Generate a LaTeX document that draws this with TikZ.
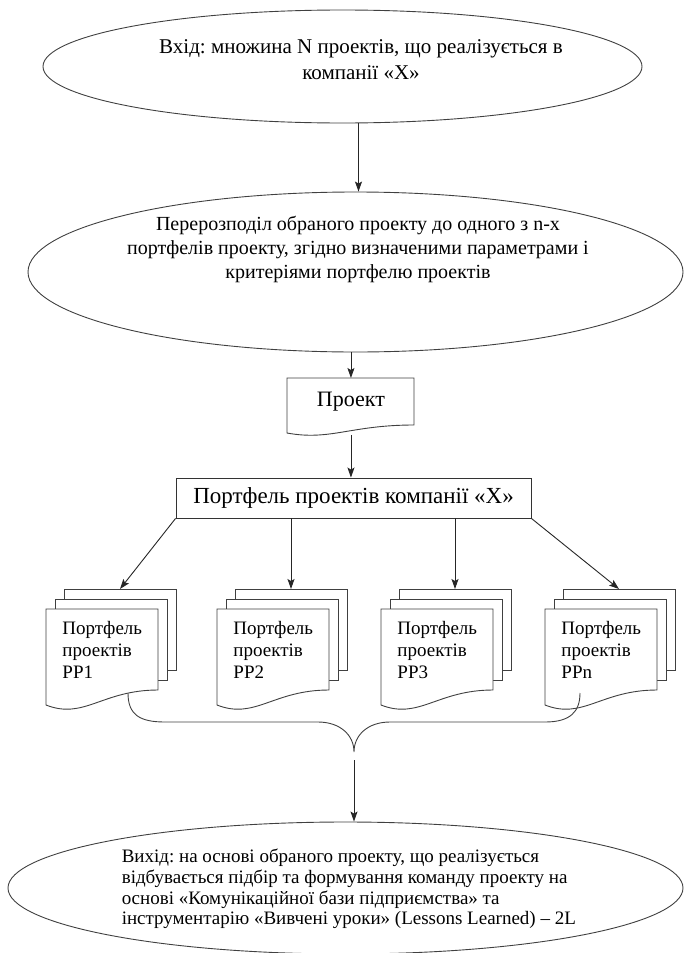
\documentclass[tikz,border=0pt]{standalone}
\usepackage{fontspec}
\setmainfont{Liberation Serif}
\usetikzlibrary{arrows.meta}
\usetikzlibrary{shapes.geometric}
\frenchspacing

\begin{document}
\begin{tikzpicture}[x=1pt, y=-1pt,
    line width=0.9pt,
    arr/.style={draw=black!85, -{Stealth[length=10pt, width=7pt, inset=2pt]}},
    oval/.style={draw=black!75, ellipse, inner sep=0pt},
    sheet/.style={draw=black!75, fill=white},
    pptext/.style={align=left, text width=80pt, inner xsep=16pt,
      inner ysep=0pt, minimum height=81pt,
      font=\fontsize{19}{22}\selectfont}]
    \path [use as bounding box]
      (0, 0) rectangle (685, 953);

    \newcommand{\wavebox}[5]{
      \path[sheet] (#1, #2) -- ++(#3, 0) -- ++(0, #4)
        .. controls +(-0.5*#3, 0) and +(0.34*#3, #5) .. ++(-#3, #5) -- cycle;
    }

    \newcommand{\pstack}[4]{
      \path[sheet] (#2 + 18, #3 - 20) rectangle ++(112, 81);
      \path[sheet] (#2 + 9, #3 - 10) rectangle ++(112, 81);
      \wavebox{#2}{#3}{112}{81}{15}
      \node[pptext, anchor=north west] (#1) at (#2, #3)
        {Портфель\\проектів\\#4};
      \coordinate (#1top) at (#2 + 74, #3 - 20);
    }

    % input and redistribution
    \node[oval, minimum width=599, minimum height=113] (inp) at (342.5, 66.5) {};
    \node[font=\fontsize{21}{26}\selectfont, align=center] (inptext) at (361, 60)
      {Вхід: множина N проектів, що реалізується в\\компанії «X»};

    \node[oval, minimum width=655, minimum height=160] (sel) at (355.5, 272) {};
    \node[font=\fontsize{20}{24}\selectfont, align=center] (seltext) at (358, 249)
      {Перерозподіл обраного проекту до одного з n-x\\
       портфелів проекту, згідно визначеними параметрами і\\
       критеріями портфелю проектів};

    \wavebox{287}{378}{127}{47}{8}
    \node[minimum width=127, minimum height=47, inner sep=0pt,
      font=\fontsize{22}{26}\selectfont, anchor=north west] (proj) at (287, 378) {Проект};

    \node[draw=black!80, minimum width=355, minimum height=40, inner sep=0pt,
      font=\fontsize{23}{26}\selectfont] (pfl) at (353.5, 498)
      {Портфель проектів компанії «X»};

    % portfolios
    \pstack{pp1}{46}{609}{PP1}
    \pstack{pp2}{217}{609}{PP2}
    \pstack{pp3}{381}{609}{PP3}
    \pstack{pp4}{545}{609}{PPn}

    \node[oval, minimum width=675, minimum height=132] (out) at (345.5, 888) {};
    \node[font=\fontsize{19}{20.7}\selectfont, align=left, anchor=west] (outtext) at (118, 889)
      {Вихід: на основі обраного проекту, що реалізується\\
       відбувається підбір та формування команду проекту на\\
       основі «Комунікаційної бази підприємства» та\\
       інструментарію «Вивчені уроки» (Lessons Learned) – 2L};

    \coordinate (a1) at ([xshift=16]inp.south);
    \draw[arr] (a1) -- (a1 |- sel.north);
    \draw[arr] (proj.north |- sel.south) -- (proj.north);
    \draw[arr] ([yshift=-9]proj.south) -- (proj.south |- pfl.north);

    \draw[arr] (pfl.south west) -- (pp1top);
    \draw[arr] (pfl.south -| pp2top) -- (pp2top);
    \draw[arr] (pfl.south -| pp3top) -- (pp3top);
    \draw[arr] (pfl.south east) -- (pp4top);

    % brace
    \draw[draw=black!75] (128, 693) .. controls (128, 715) and (140, 722) .. (165, 722)
      -- (318, 722) .. controls (340, 722) and (354, 735) .. (354, 752) coordinate (brtip)
      .. controls (354, 735) and (368, 722) .. (390, 722)
      -- (545, 722) .. controls (570, 722) and (580, 712) .. (580, 693);
    \draw[arr] ([yshift=-8]brtip) -- (brtip |- out.north);

\end{tikzpicture}
\end{document}
